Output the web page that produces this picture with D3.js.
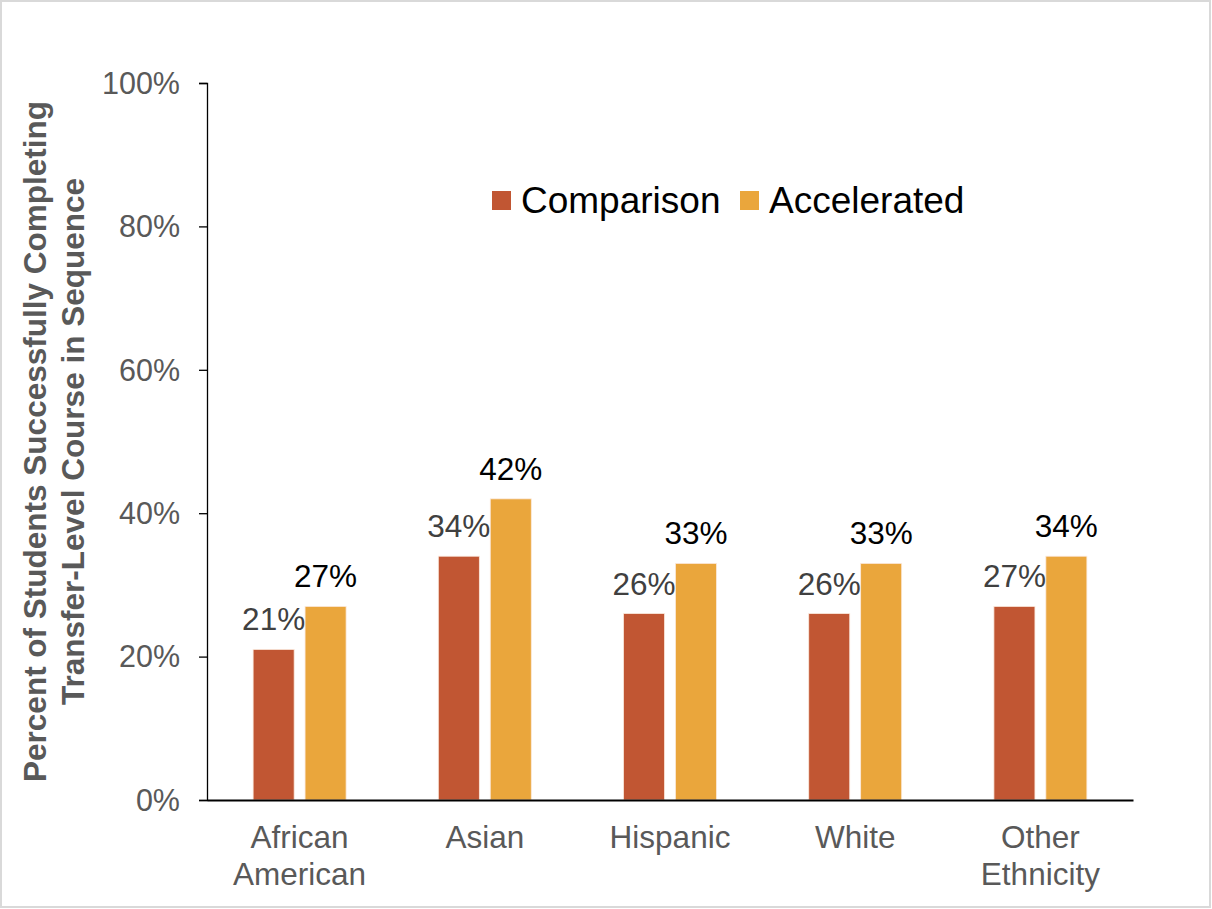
<!DOCTYPE html>
<html>
<head>
<meta charset="utf-8">
<script src="https://cdn.jsdelivr.net/npm/d3@7"></script>
<style>
  html, body { margin: 0; padding: 0; background: #fff; }
  svg { display: block; font-family: "Liberation Sans", Arial, sans-serif; }
</style>
</head>
<body>
<svg id="chart" width="1212" height="909"></svg>
<script>
// Completion rates by ethnicity, comparison vs accelerated cohorts
const categories = [["African", "American"], ["Asian"], ["Hispanic"], ["White"], ["Other", "Ethnicity"]];
const seriesNames = ["Comparison", "Accelerated"];
const comparison = [0.21, 0.34, 0.26, 0.26, 0.27];
const accelerated = [0.27, 0.42, 0.33, 0.33, 0.34];
const yTicks = [0, 0.2, 0.4, 0.6, 0.8, 1.0];
const yTitle = ["Percent of Students Successfully Completing", "Transfer-Level Course in Sequence"];

const colors = { Comparison: "#C15633", Accelerated: "#EAA63C" };
const labelColors = { Comparison: "#404040", Accelerated: "#000000" };

const svg = d3.select("#chart");
const margin = { left: 207, right: 79, top: 83, bottom: 109 };
const W = 1212, H = 909;

// outer frame
svg.append("rect")
  .attr("x", 1).attr("y", 1).attr("width", W - 3).attr("height", H - 3)
  .attr("fill", "#fff").attr("stroke", "#d9d9d9").attr("stroke-width", 2);

const keys = categories.map(c => c.join(" "));
const x0 = d3.scaleBand().domain(keys)
  .range([margin.left, W - margin.right])
  .paddingInner(0.498).paddingOuter(0.249);
const x1 = d3.scaleBand().domain(seriesNames)
  .range([0, x0.bandwidth()]).paddingInner(0.21);
const y = d3.scaleLinear().domain([0, 1]).range([H - margin.bottom, margin.top]);

const rows = keys.map((k, i) => ({ key: k, lines: categories[i], Comparison: comparison[i], Accelerated: accelerated[i] }));

// bars
const groups = svg.append("g").selectAll("g").data(rows).join("g")
  .attr("transform", d => `translate(${x0(d.key)},0)`);

groups.selectAll("rect")
  .data(d => seriesNames.map(s => ({ s, v: d[s] })))
  .join("rect")
  .attr("x", d => x1(d.s))
  .attr("y", d => y(d.v))
  .attr("width", x1.bandwidth())
  .attr("height", d => y(0) - y(d.v))
  .attr("fill", d => colors[d.s])
  .attr("stroke", "#fbe9dd").attr("stroke-width", 0.8);

// value labels
groups.selectAll("text.val")
  .data(d => seriesNames.map(s => ({ s, v: d[s] })))
  .join("text")
  .attr("class", "val")
  .attr("x", d => x1(d.s) + x1.bandwidth() / 2)
  .attr("y", d => y(d.v) - 19)
  .attr("text-anchor", "middle")
  .attr("font-size", 31.5)
  .attr("fill", d => labelColors[d.s])
  .text(d => d3.format(".0%")(d.v));

// y axis
const yAxis = d3.axisLeft(y).tickValues(yTicks).tickFormat(d3.format(".0%"))
  .tickSize(8).tickPadding(19);
const gy = svg.append("g").attr("transform", `translate(${margin.left},0)`).call(yAxis);
gy.select(".domain").attr("stroke", "#000").attr("stroke-width", 1.3);
gy.selectAll(".tick line").attr("stroke", "#000").attr("stroke-width", 1.3);
gy.selectAll(".tick text")
  .attr("font-size", 30.5).attr("fill", "#595959")
  .attr("font-family", "'Liberation Sans', Arial, sans-serif")
  .attr("dy", "0.34em");

// x axis baseline
const xAxis = d3.axisBottom(x0).tickSize(0).tickFormat("");
const gx = svg.append("g").attr("transform", `translate(0,${y(0)})`).call(xAxis);
gx.select(".domain").attr("stroke", "#000").attr("stroke-width", 2);

// category labels (multi-line)
const cat = svg.append("g").selectAll("text").data(rows).join("text")
  .attr("x", d => x0(d.key) + x0.bandwidth() / 2)
  .attr("y", y(0) + 48)
  .attr("text-anchor", "middle")
  .attr("font-size", 31.5)
  .attr("fill", "#595959");
cat.selectAll("tspan").data(d => d.lines).join("tspan")
  .attr("x", function () { return d3.select(this.parentNode).attr("x"); })
  .attr("dy", (d, i) => i === 0 ? 0 : 37)
  .text(d => d);

// y axis title
const yt = svg.append("text")
  .attr("transform", `translate(46,${(y(0) + y(1)) / 2}) rotate(-90)`)
  .attr("text-anchor", "middle")
  .attr("font-size", 31.5).attr("font-weight", "bold")
  .attr("fill", "#595959");
yt.selectAll("tspan").data(yTitle).join("tspan")
  .attr("x", 0)
  .attr("dy", (d, i) => i === 0 ? 0 : 38)
  .text(d => d);

// legend
const legend = svg.append("g").attr("transform", "translate(492,191)");
const legendX = [0, 248];
seriesNames.forEach((s, i) => {
  const g = legend.append("g").attr("transform", `translate(${legendX[i]},0)`);
  g.append("rect").attr("width", 19).attr("height", 19).attr("fill", colors[s]);
  g.append("text").attr("x", 29).attr("y", 22)
    .attr("font-size", 37).attr("fill", "#000").text(s);
});
</script>
</body>
</html>
